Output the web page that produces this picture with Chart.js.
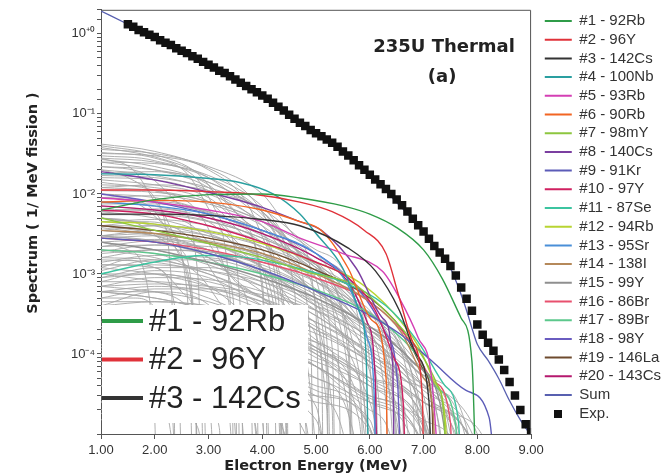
<!DOCTYPE html>
<html>
<head>
<meta charset="utf-8">
<script src="https://cdn.jsdelivr.net/npm/chart.js@4.4.0/dist/chart.umd.min.js"></script>
<style>
  html, body { margin: 0; padding: 0; background: #fff; }
  #wrap { width: 671px; height: 476px; position: relative; }
</style>
</head>
<body>
<div id="wrap"><canvas id="chart"></canvas></div>
<script>
// --- data (energy in MeV, spectrum in 1/MeV fission) ---
const nuclides = ['#1 - 92Rb', '#2 - 96Y', '#3 - 142Cs', '#4 - 100Nb', '#5 - 93Rb', '#6 - 90Rb',
  '#7 - 98mY', '#8 - 140Cs', '#9 - 91Kr', '#10 - 97Y', '#11 - 87Se', '#12 - 94Rb', '#13 - 95Sr',
  '#14 - 138I', '#15 - 99Y', '#16 - 86Br', '#17 - 89Br', '#18 - 98Y', '#19 - 146La', '#20 - 143Cs'];

const nuclideColors = ['#2f9c48', '#e0323a', '#333333', '#2a9fa0', '#d43fb4', '#f26522', '#8dc63f',
  '#7b3fa0', '#5c5cb8', '#d02060', '#3cc4a0', '#b8d432', '#4a8fd8', '#b5895a', '#8f8f8f',
  '#e8506e', '#5cc88c', '#6a5cc0', '#6e4b2e', '#b5186e'];

const nuclideSpectra = [
  [[1,6.3e-3],[2,8.5e-3],[3,9.8e-3],[4,1.0e-2],[4.7,8.9e-3],[5.5,7.1e-3],[6,5.6e-3],[6.5,3.8e-3],[7,2.0e-3],[7.35,8.7e-4],[7.7,2.8e-4],[7.9,8.1e-5],[7.99,1e-6]],
  [[1,1.12e-2],[2,1.12e-2],[3,1.07e-2],[3.8,1.0e-2],[4.7,7.9e-3],[5.3,6.0e-3],[5.9,3.5e-3],[6.3,1.8e-3],[6.55,5.0e-4],[6.8,1.4e-4],[6.98,2.6e-5],[7.01,1e-6]],
  [[1,5.6e-3],[2,5.6e-3],[3,5.4e-3],[4,4.8e-3],[4.7,4.0e-3],[5.6,2.1e-3],[6.1,1.1e-3],[6.55,3.5e-4],[6.86,1.0e-4],[7.1,2.6e-5],[7.16,1e-6]],
  [[1,1.78e-2],[2,1.74e-2],[2.9,1.58e-2],[3.6,1.38e-2],[4.2,1.0e-2],[4.7,5.6e-3],[5,3.2e-3],[5.5,1.17e-3],[5.8,3.5e-4],[5.93,1.0e-4],[5.99,1e-6]],
  [[1,8.9e-3],[2,7.9e-3],[3,6.3e-3],[4,4.5e-3],[4.7,2.8e-3],[5.5,1.8e-3],[6.24,1.07e-3],[6.55,5.0e-4],[6.9,1.6e-4],[7.15,5.0e-5],[7.33,1e-6]],
  [[1,7.9e-3],[2,8.3e-3],[3,7.9e-3],[4,6.3e-3],[4.7,4.5e-3],[5.1,3.5e-3],[5.6,1.17e-3],[6.05,2.6e-4],[6.31,4.3e-5],[6.33,1e-6]],
  [[1,5.0e-3],[2,3.5e-3],[3,2.4e-3],[4,1.6e-3],[4.8,1.07e-3],[5.75,7.1e-4],[6.24,3.7e-4],[6.74,1.6e-4],[7,8.9e-5],[7.24,4.3e-5],[7.38,1.6e-5],[7.44,1e-6]],
  [[1,1.9e-2],[2,1.5e-2],[3,1.05e-2],[4,6.8e-3],[4.7,4.5e-3],[5.1,3.5e-3],[5.75,1.17e-3],[6.24,2.8e-4],[6.43,6.8e-5],[6.46,1e-6]],
  [[1,2.8e-3],[2,2.5e-3],[3,1.8e-3],[4,1.12e-3],[4.7,7.4e-4],[5.94,3.2e-4],[6.55,1.8e-4],[7.16,8.1e-5],[7.79,3.5e-5],[8.22,1.6e-5],[8.38,1e-6]],
  [[1,6.3e-3],[2,5.6e-3],[3,4.0e-3],[4,2.5e-3],[5,1.4e-3],[5.6,8.9e-4],[6.1,3.5e-4],[6.45,8.9e-5],[6.62,2.5e-5],[6.68,1e-6]],
  [[1,1.0e-3],[2,1.41e-3],[2.9,1.7e-3],[3.5,1.66e-3],[4.5,1.26e-3],[5.5,7.9e-4],[6.3,4.0e-4],[6.9,1.41e-4],[7.4,4.0e-5],[7.65,1.41e-5],[7.72,1e-6]],
  [[1,4.5e-3],[2,4.2e-3],[3,3.4e-3],[4,2.4e-3],[5,1.4e-3],[5.8,7.9e-4],[6.4,3.5e-4],[6.9,1.26e-4],[7.2,4.5e-5],[7.4,1.6e-5],[7.48,1e-6]],
  [[1,7.9e-3],[2,7.1e-3],[3,5.6e-3],[4,3.5e-3],[5,1.8e-3],[5.6,7.1e-4],[5.95,1.6e-4],[6.08,3.2e-5],[6.12,1e-6]],
  [[1,3.5e-3],[2,3.2e-3],[3,2.5e-3],[4,1.8e-3],[5,1.0e-3],[6,4.5e-4],[6.6,1.8e-4],[7,5.0e-5],[7.18,1.8e-5],[7.24,1e-6]],
  [[1,2.5e-3],[2,2.0e-3],[3,1.4e-3],[4,8.9e-4],[5,5.0e-4],[6,2.2e-4],[6.8,7.9e-5],[7.3,2.5e-5],[7.6,1e-6]],
  [[1,2.8e-3],[2,2.5e-3],[3,2.0e-3],[4,1.4e-3],[5,8.9e-4],[6,4.5e-4],[6.7,1.6e-4],[7.2,4.5e-5],[7.5,1.4e-5],[7.55,1e-6]],
  [[1,2.0e-3],[2,1.8e-3],[3,1.4e-3],[4,1.0e-3],[5,6.3e-4],[6,3.2e-4],[6.8,1.12e-4],[7.3,3.5e-5],[7.6,1.26e-5],[7.65,1e-6]],
  [[1,1.0e-2],[2,7.9e-3],[3,5.6e-3],[4,3.5e-3],[5,1.8e-3],[5.8,6.3e-4],[6.3,1.8e-4],[6.52,4.0e-5],[6.59,1e-6]],
  [[1,4.0e-3],[2,3.5e-3],[3,2.8e-3],[4,2.0e-3],[5,1.12e-3],[6,5.0e-4],[6.6,2.0e-4],[7,6.3e-5],[7.16,2.0e-5],[7.2,1e-6]],
  [[1,7.1e-3],[2,6.3e-3],[3,5.0e-3],[4,3.2e-3],[5,1.6e-3],[5.6,7.9e-4],[5.95,2.5e-4],[6.1,5.0e-5],[6.14,1e-6]]
];

// remaining fission products (grey bundle)
const otherSpectra = [
  [[1,4.2e-2],[2,3.4e-2],[3,2.0e-2],[3.7,8e-3],[4.2,1.5e-3],[4.45,1.2e-4],[4.5,1e-7]],
  [[1,3.6e-2],[2,3.2e-2],[3,2.2e-2],[4,1e-2],[4.6,3e-3],[5,3e-4],[5.1,1e-7]],
  [[1,3.0e-2],[2,2.6e-2],[2.8,1.5e-2],[3.3,4e-3],[3.6,3e-4],[3.66,1e-7]],
  [[1,2.5e-2],[2,2.4e-2],[3,1.7e-2],[4,7e-3],[4.8,1.5e-3],[5.3,1.2e-4],[5.38,1e-7]],
  [[1,2.2e-2],[1.8,1.8e-2],[2.4,8e-3],[2.8,1e-3],[2.95,1e-7]],
  [[1,1.8e-2],[2,1.9e-2],[3,1.4e-2],[4,6e-3],[5,1.2e-3],[5.6,1.0e-4],[5.7,1e-7]],
  [[1,1.5e-2],[2,1.3e-2],[3,9e-3],[3.6,4e-3],[4,6e-4],[4.15,1e-7]],
  [[1,1.2e-2],[2,1.3e-2],[3,1.1e-2],[4,6e-3],[4.8,1.6e-3],[5.4,1.5e-4],[5.5,1e-7]],
  [[1,2.8e-2],[1.6,2e-2],[2,8e-3],[2.3,1e-3],[2.42,1e-7]],
  [[1,3.3e-2],[2,2.8e-2],[2.6,1.8e-2],[3.1,5e-3],[3.4,5e-4],[3.5,1e-7]],
  [[1,8e-3],[2,7e-3],[3,5e-3],[4,2.5e-3],[5,6e-4],[5.6,6e-5],[5.7,1e-7]],
  [[1,6e-3],[2,6.5e-3],[3,4.5e-3],[3.8,1.5e-3],[4.3,1.5e-4],[4.4,1e-7]],
  [[1,5e-3],[2,4e-3],[3,2.5e-3],[4,1.2e-3],[5,4e-4],[6,6e-5],[6.3,1e-7]],
  [[1,4e-3],[1.8,4.5e-3],[2.6,3e-3],[3.2,8e-4],[3.5,6e-5],[3.55,1e-7]],
  [[1,3e-3],[2,3.5e-3],[3,3e-3],[4,1.8e-3],[5,6e-4],[5.8,6e-5],[5.95,1e-7]],
  [[1,2.2e-3],[2,2.6e-3],[3,2e-3],[4,1.0e-3],[4.8,2.5e-4],[5.2,2e-5],[5.25,1e-7]],
  [[1,1.6e-3],[2,2e-3],[3,1.8e-3],[4,1.1e-3],[5,4e-4],[6,7e-5],[6.6,5e-6],[6.7,1e-7]],
  [[1,9e-3],[1.6,8e-3],[2.2,4e-3],[2.6,6e-4],[2.75,1e-7]],
  [[1,7e-3],[2,6e-3],[2.8,3.5e-3],[3.5,8e-4],[3.9,4e-5],[3.95,1e-7]],
  [[1,1.1e-3],[2,1.5e-3],[3,1.5e-3],[4,1e-3],[5,4.5e-4],[6,1.2e-4],[7,1.5e-5],[7.3,1e-7]],
  [[1,8e-4],[2,1.1e-3],[3,9e-4],[4,4e-4],[4.7,7e-5],[5,1e-7]],
  [[1,6e-4],[2,7e-4],[3,6e-4],[4,3.5e-4],[5,1.2e-4],[6,2.5e-5],[6.6,1e-7]],
  [[1,4e-4],[2,6e-4],[2.8,5e-4],[3.5,2e-4],[4,2e-5],[4.1,1e-7]],
  [[1,3e-4],[2,4e-4],[3,4e-4],[4,2.5e-4],[5,1e-4],[6,3e-5],[7,6e-6],[7.2,1e-7]],
  [[1,2e-4],[2,3e-4],[3,2.5e-4],[3.8,1e-4],[4.4,1e-5],[4.5,1e-7]],
  [[1,1.5e-4],[2,2e-4],[3,2e-4],[4,1.4e-4],[5,7e-5],[6,2.5e-5],[7,7e-6],[7.6,1e-7]],
  [[1,1e-4],[1.8,1.3e-4],[2.5,9e-5],[3,3e-5],[3.2,1e-7]],
  [[1,7e-5],[2,1e-4],[3,1e-4],[4,6e-5],[4.8,1.5e-5],[5.1,1e-7]],
  [[1,5e-5],[2,7e-5],[2.7,5e-5],[3.2,1.2e-5],[3.3,1e-7]],
  [[1,3e-5],[2,4.5e-5],[3,4e-5],[3.8,2e-5],[4.2,1e-7]],
  [[1,2e-5],[1.6,3e-5],[2.2,2e-5],[2.6,1e-7]],
  [[1,5e-4],[1.6,5e-4],[2.2,2e-4],[2.5,1e-7]],
  [[1,2.5e-3],[1.5,2e-3],[1.9,5e-4],[2.1,1e-7]],
  [[1,1.3e-3],[2,1.2e-3],[2.5,6e-4],[2.9,6e-5],[3,1e-7]],
  [[1,4e-3],[2,3.2e-3],[3,2e-3],[4,1e-3],[5,4e-4],[6,1.6e-4],[6.55,8e-5],[7.5,2e-5],[8.3,4e-6],[8.6,1e-7]],
  [[1,2e-3],[2,1.6e-3],[3,1e-3],[4,5e-4],[5,2.2e-4],[6,9e-5],[6.55,5e-5],[7.5,1.4e-5],[8.1,1e-7]],
  [[1,6e-3],[2,5e-3],[3,3.2e-3],[4,1.6e-3],[5,6e-4],[6,2e-4],[7,5e-5],[8,1e-5],[8.8,1e-7]],
  [[1,1e-3],[2,8e-4],[3,5e-4],[4,2.5e-4],[5,1.2e-4],[6,5e-5],[7,1.6e-5],[7.8,1e-7]],
  [[1,1e-2],[2,9e-3],[3,6e-3],[4,3e-3],[5,1.3e-3],[6,4.5e-4],[6.8,8e-5],[7.3,1e-5],[7.4,1e-7]],
  [[1,1.6e-2],[2,1.5e-2],[3,1e-2],[4,4.5e-3],[5,1.3e-3],[5.8,2.5e-4],[6.3,2.5e-5],[6.4,1e-7]],
  [[1,1.2e-3],[1.5,1.5e-3],[2,1.2e-3],[2.4,3e-4],[2.55,1e-7]],
  [[1,3.5e-4],[2,2.2e-4],[3,1e-4],[3.6,2e-5],[3.8,1e-7]],
  [[1,1.2e-4],[2,9e-5],[3,5e-5],[4,2e-5],[4.6,3e-6],[4.7,1e-7]],
  [[1,2.5e-2],[2,2e-2],[3,1.2e-2],[3.8,4e-3],[4.4,3e-4],[4.5,1e-7]],
  [[1,1.4e-2],[2,1.1e-2],[2.8,6e-3],[3.3,1.2e-3],[3.55,5e-5],[3.6,1e-7]],
  [[1,3.8e-3],[2,3e-3],[3,1.6e-3],[4,6e-4],[4.8,1e-4],[5.2,1e-7]],
  [[1,8e-5],[1.8,1.4e-4],[2.6,1.5e-4],[3.4,8e-5],[4,1.5e-5],[4.15,1e-7]],
  [[1,2.5e-5],[2,5e-5],[3,7e-5],[4,6e-5],[5,3e-5],[5.6,5e-6],[5.7,1e-7]],
  [[1,4e-5],[2,3e-5],[2.8,1.2e-5],[3.1,1e-7]],
  [[1,6e-4],[2,5e-4],[3,3.5e-4],[4,1.8e-4],[5,7e-5],[6,2e-5],[6.5,4e-6],[6.6,1e-7]],
  [[1,3.8e-2],[2,2.9e-2],[3,1.6e-2],[4,5e-3],[4.6,6e-4],[4.8,1e-7]],
  [[1,3.2e-2],[2,3.0e-2],[3,2.1e-2],[3.8,9e-3],[4.5,1.8e-3],[4.9,1.5e-4],[4.97,1e-7]],
  [[1,2.7e-2],[2,2.2e-2],[3,1.3e-2],[3.8,4e-3],[4.3,5e-4],[4.42,1e-7]],
  [[1,2.0e-2],[2,1.7e-2],[3,1.1e-2],[4,4e-3],[4.9,6e-4],[5.2,5e-5],[5.25,1e-7]],
  [[1,1.7e-2],[2,1.6e-2],[3,1.2e-2],[4,6.5e-3],[5,2e-3],[5.8,2.5e-4],[6.05,1e-7]],
  [[1,1.1e-2],[2,1.05e-2],[3,8e-3],[4,4.5e-3],[5,1.6e-3],[5.9,2.5e-4],[6.3,1e-7]],
  [[1,9e-3],[2,9.5e-3],[3,7.5e-3],[4,4e-3],[5,1.1e-3],[5.6,1.5e-4],[5.75,1e-7]],
  [[1,7.5e-3],[2,7.5e-3],[3,6e-3],[4,3.5e-3],[5,1.3e-3],[6,2e-4],[6.5,1e-5],[6.55,1e-7]],
  [[1,5.5e-3],[2,5.5e-3],[3,4.5e-3],[4,2.8e-3],[5,1.2e-3],[6,3e-4],[6.8,2.5e-5],[6.9,1e-7]],
  [[1,4.5e-3],[2,4.8e-3],[3,4e-3],[4,2.5e-3],[5,1e-3],[5.8,2e-4],[6.2,1.5e-5],[6.25,1e-7]],
  [[1,3.5e-3],[2,4e-3],[3,3.5e-3],[4,2.2e-3],[5,9e-4],[6,2e-4],[6.6,2e-5],[6.7,1e-7]],
  [[1,2.8e-3],[2,3e-3],[3,2.6e-3],[4,1.7e-3],[5,8e-4],[6,2.2e-4],[7,1.5e-5],[7.15,1e-7]],
  [[1,1.9e-3],[2,2.3e-3],[3,2.2e-3],[4,1.5e-3],[5,6.5e-4],[6,1.5e-4],[6.7,1.2e-5],[6.8,1e-7]],
  [[1,1.4e-3],[2,1.7e-3],[3,1.6e-3],[4,1.2e-3],[5,6e-4],[6,2e-4],[7,3e-5],[7.5,1e-7]],
  [[1,9e-4],[2,1.2e-3],[3,1.2e-3],[4,8e-4],[5,3.5e-4],[6,8e-5],[6.6,8e-6],[6.7,1e-7]],
  [[1,7e-4],[2,9e-4],[3,8.5e-4],[4,6e-4],[5,3e-4],[6,1e-4],[7,1.8e-5],[7.6,1e-7]],
  [[1,5e-4],[2,6.5e-4],[3,6.5e-4],[4,4.5e-4],[5,2e-4],[5.8,5e-5],[6.3,1e-7]],
  [[1,4e-4],[2,4.5e-4],[3,4e-4],[4,2.8e-4],[5,1.4e-4],[6,5e-5],[7,1.2e-5],[7.9,1e-7]],
  [[1,2.5e-4],[2,3.5e-4],[3,3.5e-4],[4,2.5e-4],[5,1.1e-4],[5.8,2.5e-5],[6.2,1e-7]],
  [[1,1.8e-4],[2,2.5e-4],[3,2.8e-4],[4,2.2e-4],[5,1.2e-4],[6,4.5e-5],[7,1e-5],[7.7,1e-7]],
  [[1,1.3e-4],[2,1.8e-4],[3,1.8e-4],[4,1.2e-4],[5,5e-5],[5.7,1e-5],[5.9,1e-7]],
  [[1,9e-5],[2,1.3e-4],[3,1.5e-4],[4,1.2e-4],[5,7e-5],[6,2.8e-5],[7,7e-6],[7.4,1e-7]],
  [[1,6e-5],[2,9e-5],[3,1e-4],[4,8e-5],[5,4e-5],[6,1.2e-5],[6.4,1e-7]],
  [[1,4e-5],[2,6e-5],[3,7e-5],[4,6e-5],[5,3.5e-5],[6,1.2e-5],[6.8,1e-7]],
  [[1,2.5e-5],[2,3.5e-5],[3,4e-5],[4,3e-5],[5,1.5e-5],[5.5,1e-7]],
  [[1,1.5e-5],[2,2.5e-5],[3,3e-5],[4,2.5e-5],[4.8,1e-5],[5.2,1e-7]],
  [[1,3e-3],[2,2.5e-3],[3,1.6e-3],[3.8,6e-4],[4.4,6e-5],[4.5,1e-7]],
  [[1,2e-3],[2,1.8e-3],[2.8,1e-3],[3.4,3e-4],[3.8,2e-5],[3.85,1e-7]],
  [[1,1e-3],[2,1e-3],[3,7e-4],[3.8,2.5e-4],[4.3,2e-5],[4.4,1e-7]],
  [[1,6e-4],[1.8,6e-4],[2.6,4e-4],[3.2,1e-4],[3.5,1e-5],[3.55,1e-7]],
  [[1,3e-4],[1.8,3.5e-4],[2.6,2.5e-4],[3.3,6e-5],[3.6,1e-7]],
  [[1,1.8e-4],[2,2e-4],[3,1.2e-4],[3.8,2.5e-5],[4.1,1e-7]],
  [[1,5e-3],[1.6,4.5e-3],[2.2,2.5e-3],[2.7,4e-4],[2.85,1e-7]],
  [[1,1.0e-2],[1.5,9e-3],[2,6e-3],[2.5,1.5e-3],[2.75,1e-4],[2.8,1e-7]],
  [[1,2e-2],[1.5,1.6e-2],[2,9e-3],[2.5,2e-3],[2.75,1.5e-4],[2.8,1e-7]],
  [[1,1.3e-2],[2,1.2e-2],[3,8e-3],[3.8,2.5e-3],[4.3,2.5e-4],[4.4,1e-7]],
  [[1,8e-3],[2,8e-3],[3,5.5e-3],[3.7,2e-3],[4.2,2e-4],[4.3,1e-7]],
  [[1,3e-3],[2,3.2e-3],[3,2.4e-3],[4,1.2e-3],[4.8,3e-4],[5.3,2e-5],[5.35,1e-7]],
  [[1,1.5e-3],[2,1.4e-3],[3,1e-3],[4,5e-4],[5,1.5e-4],[5.6,2e-5],[5.75,1e-7]],
  [[1,7e-4],[2,6e-4],[3,4.5e-4],[4,2.5e-4],[5,9e-5],[5.8,1.5e-5],[6,1e-7]],
  [[1,2e-4],[2,1.6e-4],[3,1.1e-4],[4,6e-5],[5,2.2e-5],[5.4,1e-7]],
  [[1,2.5e-3],[2,2e-3],[3,1.3e-3],[4,7e-4],[5,3e-4],[6,1e-4],[7,3e-5],[8,6e-6],[8.7,1e-7]],
  [[1,1.2e-3],[2,1e-3],[3,7e-4],[4,4e-4],[5,2e-4],[6,8e-5],[7,2.5e-5],[8,5e-6],[8.4,1e-7]],
  [[1,6e-4],[2,5e-4],[3,3.5e-4],[4,2e-4],[5,1e-4],[6,4e-5],[7,1.3e-5],[7.9,1e-7]],
  [[1,3.5e-3],[2,3e-3],[3,2e-3],[4,1.1e-3],[5,5e-4],[6,1.8e-4],[7,5e-5],[7.8,8e-6],[8.2,1e-7]],
  [[1,9e-4],[2,1e-3],[3,8e-4],[4,5e-4],[5,2.5e-4],[6,1e-4],[7,3e-5],[8,5e-6],[8.5,1e-7]],
  [[1,3.5e-4],[2,3e-4],[3,2.2e-4],[4,1.4e-4],[5,7e-5],[6,3e-5],[7,1e-5],[7.5,1e-7]],
  [[1,1.1e-4],[2,1e-4],[3,7e-5],[4,4.5e-5],[5,2.5e-5],[6,1.1e-5],[6.5,1e-7]],
  [[1,2.2e-2],[2,2e-2],[3,1.4e-2],[4,5.5e-3],[4.7,1.2e-3],[5.1,1e-4],[5.15,1e-7]],
  [[1,4e-2],[2,3.1e-2],[2.8,1.8e-2],[3.5,5e-3],[4,8e-4],[4.2,1e-7]],
  [[1,3e-3],[2,2.6e-3],[3,1.8e-3],[4,1.1e-3],[5,5.5e-4],[6,2.2e-4],[7,6e-5],[7.8,1.2e-5],[8.3,1e-7]],
  [[1,1.6e-3],[2,1.5e-3],[3,1.1e-3],[4,7e-4],[5,3.5e-4],[6,1.4e-4],[7,4e-5],[7.7,8e-6],[8,1e-7]],
  [[1,8e-4],[2,8e-4],[3,6.5e-4],[4,4.5e-4],[5,2.5e-4],[6,1.1e-4],[7,3.5e-5],[8,7e-6],[8.6,1e-7]],
  [[1,4.5e-4],[2,4.5e-4],[3,4e-4],[4,3e-4],[5,1.8e-4],[6,8e-5],[7,2.5e-5],[7.7,6e-6],[8,1e-7]],
  [[1,2.2e-4],[2,2.5e-4],[3,2.4e-4],[4,1.8e-4],[5,1.1e-4],[6,5e-5],[7,1.5e-5],[7.4,1e-7]],
  [[1,5e-3],[2,4.2e-3],[3,3e-3],[4,1.8e-3],[5,8e-4],[6,2.8e-4],[6.8,7e-5],[7.5,1e-5],[7.8,1e-7]],
  [[1,1.3e-3],[2,1.3e-3],[3,1.1e-3],[4,8e-4],[5,4.5e-4],[6,2e-4],[6.8,7e-5],[7.6,1.2e-5],[8.1,1e-7]],
  [[1,3e-4],[2,2.8e-4],[3,2.5e-4],[4,2e-4],[5,1.4e-4],[6,7e-5],[7,2.5e-5],[8,5e-6],[8.3,1e-7]],
  [[1,7e-4],[2,7.5e-4],[3,7e-4],[4,5.5e-4],[5,3.5e-4],[6,1.6e-4],[6.8,5e-5],[7.3,1.2e-5],[7.5,1e-7]],
  [[1,2.2e-3],[2,2.3e-3],[3,1.9e-3],[4,1.3e-3],[5,6e-4],[6,1.8e-4],[6.6,4e-5],[7,5e-6],[7.1,1e-7]],
  [[1,1e-4],[2,1.3e-4],[3,1.4e-4],[4,1.2e-4],[5,8e-5],[6,4e-5],[7,1.5e-5],[7.8,3e-6],[8,1e-7]],
  [[1,5e-5],[2,7e-5],[3,8e-5],[4,7e-5],[5,5e-5],[6,2.5e-5],[6.8,8e-6],[7.1,1e-7]],
  [[1,1.8e-5],[2,3e-5],[3,4e-5],[4,4e-5],[5,3e-5],[6,1.5e-5],[6.5,1e-7]],
  [[1,9e-3],[2,8e-3],[3,5.8e-3],[4,3.2e-3],[5,1.4e-3],[5.7,5e-4],[6.3,8e-5],[6.6,1e-7]],
  [[1,6.5e-3],[2,6e-3],[3,4.6e-3],[4,2.8e-3],[5,1.3e-3],[5.8,4e-4],[6.4,6e-5],[6.6,1e-7]],
  [[1,4e-3],[2,4e-3],[3,3.3e-3],[4,2.2e-3],[5,1.1e-3],[5.8,4e-4],[6.5,7e-5],[6.9,1e-7]],
  [[1,2.5e-3],[2,2.7e-3],[3,2.4e-3],[4,1.7e-3],[5,9e-4],[6,3e-4],[6.8,5e-5],[7.2,1e-7]],
  [[1,1.8e-3],[2,2e-3],[3,1.9e-3],[4,1.4e-3],[5,8e-4],[6,3.2e-4],[7,6e-5],[7.5,5e-6],[7.6,1e-7]],
  [[1,1.2e-2],[2,1.1e-2],[3,8e-3],[4,4.5e-3],[5,1.8e-3],[5.6,6e-4],[6.1,6e-5],[6.2,1e-7]],
  [[1,2.8e-2],[2,2.5e-2],[3,1.6e-2],[4,6e-3],[4.7,1.5e-3],[5.2,1.5e-4],[5.3,1e-7]]
];

const sumSpectrum = [[1,1.93],[1.5,1.32],[2,0.91],[2.5,0.617],[3,0.41],[3.5,0.27],[4,0.17],[4.5,0.098],
  [5,0.0575],[5.5,0.034],[6,0.0174],[6.5,0.0078],[7,0.0034],[7.3,0.0018],[7.5,0.00118],[7.7,5.5e-4],
  [7.8,3.5e-4],[7.9,2.1e-4],[8,1.32e-4],[8.2,8.3e-5],[8.4,4.9e-5],[8.6,2.6e-5],[8.8,1.5e-5],[9,9.5e-6]];

const expEnergy = [1.5,1.6,1.7,1.8,1.9,2.0,2.1,2.2,2.3,2.4,2.5,2.6,2.7,2.8,2.9,3.0,3.1,3.2,3.3,3.4,3.5,
  3.6,3.7,3.8,3.9,4.0,4.1,4.2,4.3,4.4,4.5,4.6,4.7,4.8,4.9,5.0,5.1,5.2,5.3,5.4,5.5,5.6,5.7,5.8,5.9,6.0,
  6.1,6.2,6.3,6.4,6.5,6.6,6.7,6.8,6.9,7.0,7.1,7.2,7.3,7.4,7.5,7.6,7.7,7.8,7.9,8.0,8.1,8.2,8.3,8.4,8.5,
  8.6,8.7,8.8,8.9,9.0];
const expSpectrum = [1.32,1.23,1.12,1.05,0.977,0.912,0.832,0.776,0.724,0.661,0.617,0.575,0.525,0.490,
  0.447,0.412,0.380,0.347,0.324,0.295,0.269,0.245,0.224,0.204,0.186,0.170,0.155,0.138,0.123,0.110,
  0.0977,0.0871,0.0776,0.0708,0.0631,0.0575,0.0525,0.0479,0.0437,0.0389,0.0339,0.0302,0.0263,0.0229,
  0.0200,0.0174,0.0151,0.0132,0.0115,0.0100,0.00851,0.00724,0.00603,0.00490,0.00407,0.00339,0.00275,
  0.00224,0.00186,0.00155,0.00126,0.000955,0.000676,0.000490,0.000347,0.000234,0.000174,0.000138,
  0.000110,0.0000851,0.0000631,0.0000447,0.0000302,0.0000200,0.0000132,0.0000105];

const xTicks = [1, 2, 3, 4, 5, 6, 7, 8, 9];
const supers = { '0': '\u2070', '1': '\u00b9', '2': '\u00b2', '3': '\u00b3', '4': '\u2074', '-': '\u207b', '+': '\u207a' };

// --- datasets ---
const datasets = [];
nuclides.forEach((name, i) => {
  datasets.push({
    label: name, data: nuclideSpectra[i], borderColor: nuclideColors[i],
    borderWidth: 1.4, pointRadius: 0, cubicInterpolationMode: 'monotone', order: 2
  });
});
datasets.push({
  label: 'Sum', data: sumSpectrum, borderColor: '#5860b0', borderWidth: 1.3,
  pointRadius: 0, cubicInterpolationMode: 'monotone', order: 1
});
datasets.push({
  label: 'Exp.', data: expEnergy.map((e, i) => [e, expSpectrum[i]]), showLine: false,
  pointStyle: 'rect', pointRadius: 6, backgroundColor: '#111', borderColor: '#111', borderWidth: 0, order: 0
});
otherSpectra.forEach(pts => {
  datasets.push({
    label: '', data: pts, borderColor: '#a6a6a6', borderWidth: 0.9,
    pointRadius: 0, cubicInterpolationMode: 'monotone', order: 3
  });
});

// small square for the Exp. legend entry
const expMarker = document.createElement('canvas');
expMarker.width = 8; expMarker.height = 8;
const mctx = expMarker.getContext('2d');
mctx.fillStyle = '#111';
mctx.fillRect(0, 0, 8, 8);

const decorations = {
  id: 'decorations',
  afterDatasetsDraw(chart) {
    const { ctx, chartArea: a } = chart;
    ctx.save();

    // inset legend with the three leading nuclides
    const bx = a.left + 1, by = a.bottom - 129, bw = 206, bh = 118;
    ctx.fillStyle = '#fff';
    ctx.fillRect(bx, by, bw, bh);
    ctx.font = '31px "Liberation Sans", Arial, sans-serif';
    ctx.textBaseline = 'middle';
    ctx.textAlign = 'left';
    [0, 1, 2].forEach(k => {
      const ds = chart.data.datasets[k];
      const y = by + 16 + k * 38.5;
      ctx.strokeStyle = ds.borderColor;
      ctx.lineWidth = 4;
      ctx.beginPath();
      ctx.moveTo(bx, y);
      ctx.lineTo(bx + 41, y);
      ctx.stroke();
      ctx.fillStyle = '#222';
      ctx.fillText(ds.label, bx + 47, y + 1);
    });

    // frame (top and right)
    ctx.strokeStyle = '#555';
    ctx.lineWidth = 1;
    ctx.beginPath();
    ctx.moveTo(a.left, a.top + 0.5);
    ctx.lineTo(a.right - 0.5, a.top + 0.5);
    ctx.lineTo(a.right - 0.5, a.bottom);
    ctx.stroke();

    // annotation
    ctx.fillStyle = '#222';
    ctx.textAlign = 'center';
    ctx.font = 'bold 18px "DejaVu Sans", Verdana, sans-serif';
    ctx.fillText('235U Thermal', a.right - 87, 47);
    ctx.fillText('(a)', a.right - 89, 77);

    // y axis title
    ctx.translate(33, 203);
    ctx.rotate(-Math.PI / 2);
    ctx.font = 'bold 14.5px "DejaVu Sans", Verdana, sans-serif';
    ctx.fillText('Spectrum ( 1/ MeV fission )', 0, 0);
    ctx.restore();
  }
};

new Chart(document.getElementById('chart'), {
  type: 'line',
  data: { datasets },
  plugins: [decorations],
  options: {
    responsive: true,
    maintainAspectRatio: false,
    animation: false,
    events: [],
    layout: { padding: { top: 8, right: 0, bottom: 0, left: 0 } },
    scales: {
      x: {
        type: 'linear', min: 1, max: 9,
        afterBuildTicks: s => { s.ticks = xTicks.map(v => ({ value: v })); },
        ticks: {
          callback: v => Number(v).toFixed(2),
          font: { family: '"Liberation Sans", Arial, sans-serif', size: 13 },
          color: '#333', padding: 4, maxRotation: 0
        },
        grid: { drawOnChartArea: false, tickLength: 5, color: '#555' },
        border: { color: '#555' },
        title: {
          display: true, text: 'Electron Energy (MeV)', color: '#222',
          font: { family: '"DejaVu Sans", Verdana, sans-serif', weight: 'bold', size: 14.5 },
          padding: { top: 0, bottom: 1 }
        },
        afterFit: s => { s.height = 42; }
      },
      y: {
        type: 'logarithmic', min: 1e-5, max: 2,
        ticks: {
          autoSkip: false,
          callback: v => {
            const p = Math.log10(v);
            const r = Math.round(p);
            if (Math.abs(p - r) > 1e-6 || r < -4 || r > 0) return '';
            const exp = (r < 0 ? '-' : '+') + Math.abs(r);
            return '10' + exp.split('').map(c => supers[c]).join('');
          },
          font: { family: '"Liberation Sans", Arial, sans-serif', size: 13 },
          color: '#333', padding: 2
        },
        grid: { drawOnChartArea: false, tickLength: 4, color: '#555' },
        border: { color: '#555' },
        afterFit: s => { s.width = 101; }
      },
      gap: {
        type: 'linear', position: 'right', display: true,
        grid: { display: false, drawTicks: false }, border: { display: false },
        ticks: { display: false },
        afterFit: s => { s.width = 10; }
      }
    },
    plugins: {
      tooltip: { enabled: false },
      legend: {
        position: 'right', align: 'start', fullSize: false, maxWidth: 200,
        labels: {
          usePointStyle: true, pointStyleWidth: 27, padding: 3.7,
          color: '#333',
          font: { family: '"Liberation Sans", Arial, sans-serif', size: 15 },
          filter: item => item.text !== '',
          sort: (a, b) => a.datasetIndex - b.datasetIndex,
          generateLabels: chart => {
            const items = Chart.defaults.plugins.legend.labels.generateLabels(chart);
            return items.map(it => {
              const ds = chart.data.datasets[it.datasetIndex];
              if (ds.label === 'Exp.') {
                it.pointStyle = expMarker;
              } else {
                it.pointStyle = 'line';
                it.strokeStyle = ds.borderColor;
                it.lineWidth = 2;
              }
              return it;
            });
          }
        }
      }
    }
  }
});
</script>
</body>
</html>
